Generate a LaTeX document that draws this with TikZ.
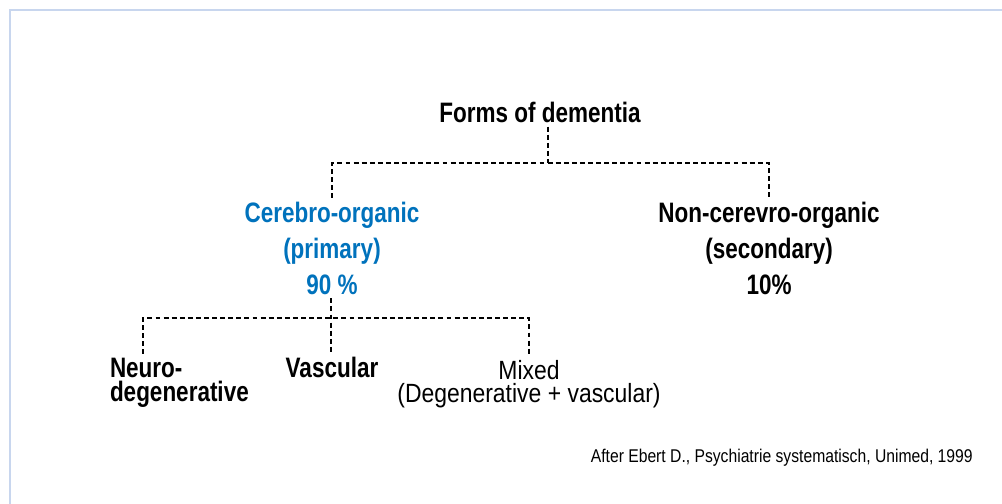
\documentclass[tikz,border=0pt]{standalone}
\usepackage{fontspec}
\setmainfont{Liberation Sans}[FakeStretch=0.87]
\newfontfamily\boldcond{Liberation Sans}[FakeStretch=0.8]
\newfontfamily\notefont{Liberation Sans}[FakeStretch=0.85]
\usetikzlibrary{calc}
\definecolor{frameblue}{RGB}{200,214,238}
\definecolor{primblue}{RGB}{0,114,188}
\tikzset{
  tree/.style={black, line width=1.3pt, dash pattern=on 2.8pt off 1.8pt},
  frameline/.style={draw=frameblue, line width=1.4pt},
  head/.style={font=\boldcond\bfseries\fontsize{16}{20.4}\selectfont,
               align=center, inner sep=0pt, outer sep=0.08cm},
  headblue/.style={head, text=primblue},
  leaf/.style={font=\boldcond\bfseries\fontsize{16}{14}\selectfont,
               align=left, inner sep=0pt, outer sep=0.08cm},
  leaflight/.style={font=\fontsize{15}{13.5}\selectfont,
                    align=center, inner sep=0pt, outer sep=0.08cm},
  source/.style={font=\notefont\fontsize{10.5}{12}\selectfont, inner sep=0pt},
}

\begin{document}
\begin{tikzpicture}[x=1cm,y=1cm]
  \path[use as bounding box] (0,0) rectangle (20.04,10.08);
  \draw[frameline] (0.2,0) |- (20.04,9.88);

  % Top level and its two branches.
  \node[head, anchor=north] (title) at (10.8,8.12) {Forms of dementia};
  \node[headblue, anchor=north] (cereb) at (6.64,6.12)
    {Cerebro-organic\\(primary)\\90 \%};
  \node[head, anchor=north] (noncereb) at (15.38,6.12)
    {Non-cerevro-organic\\(secondary)\\10\%};

  \coordinate (forkA) at (10.96,6.82);
  \draw[tree] (title.south -| forkA) -- (forkA);
  \draw[tree] (cereb.north) |- (forkA) -| (noncereb.north);

  % Subtypes of the cerebro-organic forms.
  \node[leaf, anchor=north west] (neuro) at (2.12,3.0)
    {Neuro-\\degenerative};
  \node[leaf, anchor=north] (vascular) at (6.64,3.02) {Vascular};
  \node[leaflight, anchor=north] (mixed) at (10.58,2.96)
    {Mixed\\(Degenerative + vascular)};

  \coordinate (forkB) at (6.62,3.72);
  \draw[tree] (cereb.south -| forkB) -- (vascular.north -| forkB);
  \draw[tree] ($(neuro.north west)+(0.74,0)$) |- (forkB) -| (mixed.north);

  \node[source, anchor=base east] (src) at (19.46,0.82)
    {After Ebert D., Psychiatrie systematisch, Unimed, 1999};
\end{tikzpicture}
\end{document}
